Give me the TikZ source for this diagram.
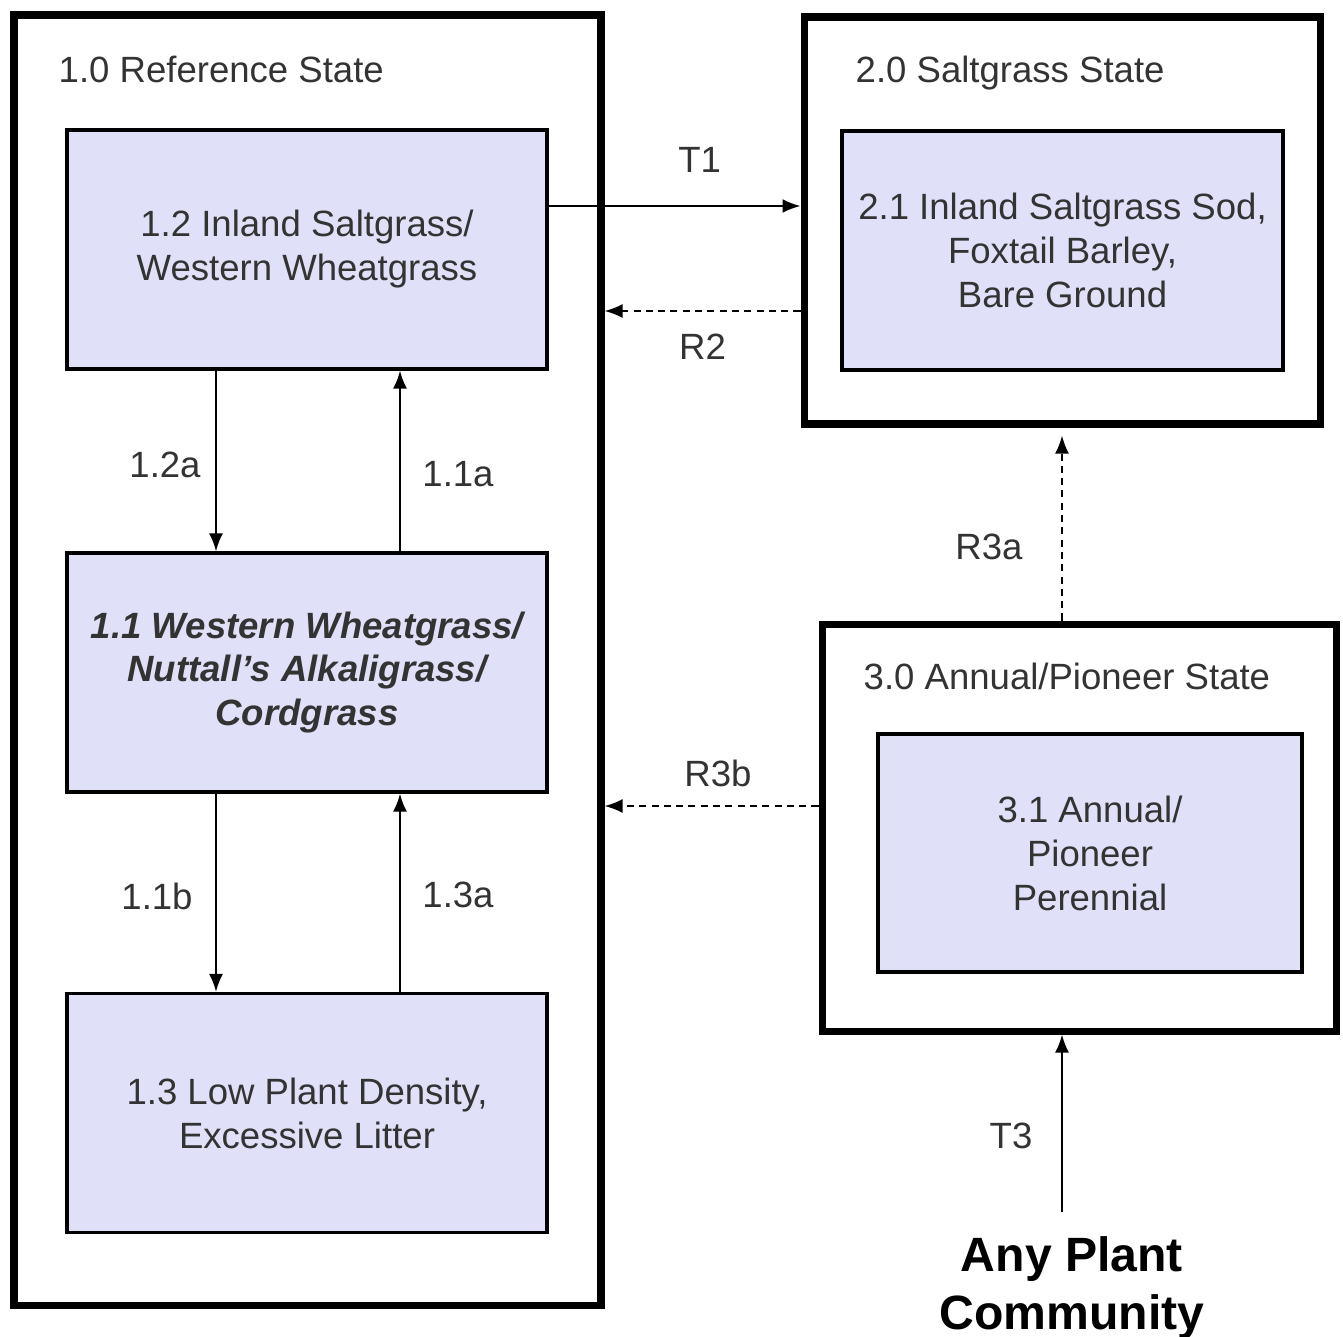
\documentclass[tikz,border=0pt]{standalone}
\usepackage{fontspec}
\setmainfont{Liberation Sans}
\usetikzlibrary{arrows.meta}
\definecolor{phasefill}{HTML}{E0E0F8}
\definecolor{txtgray}{HTML}{333333}
\begin{document}
\begin{tikzpicture}[
  font=\fontsize{10.4pt}{12.5pt}\selectfont,
  state/.style={draw,line width=2pt,inner sep=0pt},
  phase/.style={draw,line width=0.9pt,fill=phasefill,text=txtgray,align=center,
    minimum width=4.8cm,minimum height=2.39cm,inner sep=0pt},
  title/.style={anchor=base west,text=txtgray,inner sep=0pt},
  arr/.style={-{Latex[length=1.8mm,width=1.4mm]},line width=0.6pt},
  dsh/.style={dash pattern=on 2pt off 1.5pt},
  lbl/.style={text=txtgray}]
\useasboundingbox (0,0) rectangle (13.43,-13.36);
%состояния
\node[state,minimum width=5.87cm,minimum height=12.9cm] (s1) at (3.075,-6.6) {};
\node[state,minimum width=5.16cm,minimum height=4.07cm] (s2) at (10.62,-2.205) {};
\node[state,minimum width=5.14cm,minimum height=4.07cm] (s3) at (10.79,-8.275) {};
\node[title] (t1) at (0.58,-0.82) {1.0 Reference State};
\node[title] (t2) at (8.55,-0.82) {2.0 Saltgrass State};
\node[title] (t3) at (8.63,-6.89) {3.0 Annual/Pioneer State};
%сообщества
\node[phase] (p12) at (3.07,-2.495) {1.2 Inland Saltgrass/\\Western Wheatgrass};
\node[phase] (p11) at (3.07,-6.725)
  {\bfseries\itshape 1.1 Western Wheatgrass/\\\bfseries\itshape Nuttall’s Alkaligrass/\\\bfseries\itshape Cordgrass};
\node[phase] (p13) at (3.07,-11.13) {1.3 Low Plant Density,\\Excessive Litter};
\node[phase,minimum width=4.41cm] (p21) at (10.625,-2.505) {2.1 Inland Saltgrass Sod,\\Foxtail Barley,\\Bare Ground};
\node[phase,minimum width=4.24cm,minimum height=2.38cm] (p31) at (10.9,-8.53) {3.1 Annual/\\Pioneer\\Perennial};
\node[font=\fontsize{13.7pt}{16.5pt}\selectfont\bfseries,align=center,anchor=north,
  inner xsep=0pt,inner ysep=2.4mm] (any) at (10.72,-12.12) {Any Plant\\Community};
%переходы
\draw[arr] ([yshift=4.35mm]p12.east) -- ([yshift=4.35mm]p12.east -| s2.west)
  node[lbl,pos=0.6,yshift=4.6mm] {T1};
\draw[arr,dsh] ([yshift=-6.15mm]p12.east -| s2.west) -- ([yshift=-6.15mm]p12.east -| s1.east)
  node[lbl,pos=0.5,yshift=-3.6mm] {R2};
\draw[arr] ([xshift=-9.1mm]p12.south) -- ([xshift=-9.1mm]p11.north)
  node[lbl,pos=0.52,xshift=-5.1mm] {1.2a};
\draw[arr] ([xshift=9.3mm]p11.north) -- ([xshift=9.3mm]p12.south)
  node[lbl,pos=0.43,xshift=5.8mm] {1.1a};
\draw[arr] ([xshift=-9.1mm]p11.south) -- ([xshift=-9.1mm]p13.north)
  node[lbl,pos=0.52,xshift=-5.9mm] {1.1b};
\draw[arr] ([xshift=9.3mm]p13.north) -- ([xshift=9.3mm]p11.south)
  node[lbl,pos=0.49,xshift=5.8mm] {1.3a};
\draw[arr,dsh,shorten >=0.8mm] (s2.south |- s3.north) -- (s2.south)
  node[lbl,pos=0.38,xshift=-7.3mm] {R3a};
\draw[arr,dsh] ([yshift=2.15mm]s3.west) -- ([yshift=2.15mm]s3.west -| s1.east)
  node[lbl,pos=0.47,yshift=3.3mm] {R3b};
\draw[arr] (s2.south |- any.north) -- (s2.south |- s3.south)
  node[lbl,pos=0.43,xshift=-5.1mm] {T3};
\end{tikzpicture}
\end{document}
